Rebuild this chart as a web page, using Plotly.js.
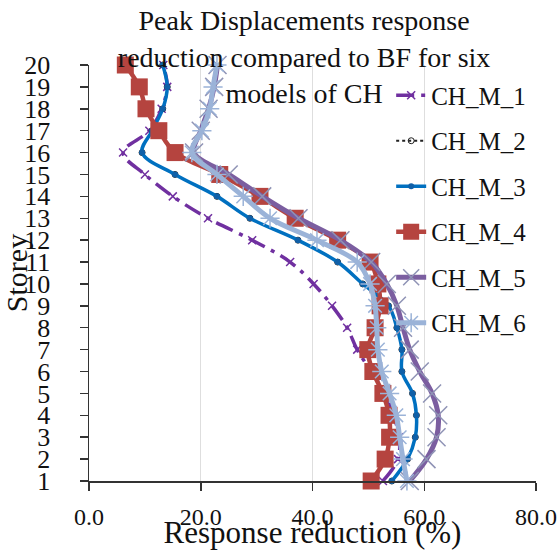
<!DOCTYPE html>
<html>
<head>
<meta charset="utf-8">
<script src="https://cdn.plot.ly/plotly-3.0.1.min.js"></script>
<style>html,body{margin:0;padding:0;background:#fff;}#chart{width:560px;height:550px;}
#fontwarm{position:absolute;left:0;top:560px;font-family:'Liberation Serif';font-size:25px;color:#fff;}</style>
</head>
<body>
<div id="chart"></div>
<span id="fontwarm">Storey CH_M_1 0.0 Response</span>
<script>
// Storey levels (1..20)
const storeys = [1,2,3,4,5,6,7,8,9,10,11,12,13,14,15,16,17,18,19,20];
// Response reduction (%) for each model, storey 1 -> 20
const chM1 = [52.6, 55.3, 55.5, 54.5, 53.0, 50.5, 48.0, 46.2, 43.5, 40.2, 36.0, 29.2, 21.3, 15.0, 10.0, 6.1, 10.8, 13.0, 14.0, 13.3];
const chM2 = [54.2, 57.0, 58.4, 58.6, 57.9, 56.0, 56.0, 55.1, 53.6, 49.0, 44.5, 37.4, 28.8, 22.9, 15.4, 9.5, 11.3, 13.2, 14.0, 13.2];
const chM3 = [54.2, 57.0, 58.4, 58.6, 57.9, 56.0, 56.0, 55.1, 53.6, 49.0, 44.5, 37.4, 28.8, 22.9, 15.4, 9.5, 11.3, 13.2, 14.0, 13.2];
const chM4 = [50.5, 53.0, 53.8, 53.7, 52.6, 50.8, 49.9, 51.2, 52.1, 51.7, 50.3, 44.5, 36.9, 30.6, 23.4, 15.4, 12.5, 10.2, 9.0, 6.5];
const chM5 = [57.4, 60.4, 62.2, 62.5, 61.4, 59.2, 57.4, 56.2, 55.1, 53.3, 50.5, 45.0, 37.5, 31.0, 25.0, 18.8, 20.0, 21.4, 22.4, 23.0];
const chM6 = [56.9, 56.2, 55.6, 55.0, 53.8, 52.4, 51.7, 51.5, 51.2, 50.3, 48.0, 40.8, 32.4, 27.6, 22.9, 18.4, 20.2, 21.6, 22.2, 22.9];
const seriesNames = ["CH_M_1","CH_M_2","CH_M_3","CH_M_4","CH_M_5","CH_M_6"];
const xTickVals = [0, 20, 40, 60, 80];

const serif = "Liberation Serif";
const spline = {shape: "spline", smoothing: 1};

const traces = [
  {x: chM1, y: storeys, name: seriesNames[0], legendgroup: "g1", mode: "lines+markers",
   line: Object.assign({color: "#7030a0", width: 3.5, dash: "18px,7px,4px,7px"}, spline),
   marker: {symbol: "x-thin-open", size: 8, color: "#7030a0", line: {color: "#8a6fc0", width: 1.5}}},
  {x: chM2, y: storeys, name: seriesNames[1], legendgroup: "g2", mode: "lines+markers",
   line: Object.assign({color: "#222222", width: 2, dash: "dot"}, spline),
   marker: {symbol: "circle-open", size: 6, color: "#222222", line: {color: "#222222", width: 1}}},
  {x: chM3, y: storeys, name: seriesNames[2], legendgroup: "g3", mode: "lines+markers",
   line: Object.assign({color: "#0070c0", width: 3.5}, spline),
   marker: {symbol: "circle", size: 6, color: "#1060a8"}},
  {x: chM4, y: storeys, name: seriesNames[3], legendgroup: "g4", mode: "lines+markers",
   line: Object.assign({color: "#b5443f", width: 4.5}, spline),
   marker: {symbol: "square", size: 17, color: "#b5443f"}},
  {x: chM5, y: storeys, name: seriesNames[4], legendgroup: "g5", mode: "lines+markers",
   line: Object.assign({color: "#7b5ea0", width: 5}, spline),
   marker: {symbol: "x-thin-open", size: 18, color: "#8f93b5", line: {color: "#8f93b5", width: 1.5}}},
  {x: chM6, y: storeys, name: seriesNames[5], legendgroup: "g6", mode: "lines+markers",
   line: Object.assign({color: "#9bb3d8", width: 5}, spline),
   marker: {symbol: "asterisk-open", size: 16, color: "#9bb3d8", line: {color: "#9bb3d8", width: 1.5}}}
];
traces.forEach(t => { t.cliponaxis = false; });

const layout = {
  width: 560, height: 550,
  margin: {l: 89, r: 24, t: 65, b: 69, pad: 0},
  paper_bgcolor: "#ffffff", plot_bgcolor: "#ffffff",
  font: {family: serif, color: "#111111", size: 24},
  title: {
    text: "Peak Displacements response<br>reduction compared to BF for six<br>models of CH",
    font: {family: serif, size: 28, color: "#111111"},
    x: 0.543, xanchor: "center", xref: "container",
    y: 0.945, yanchor: "top", yref: "container"
  },
  xaxis: {
    range: [0, 80], tickvals: xTickVals, tickformat: ".1f",
    showgrid: true, gridcolor: "#dedede", gridwidth: 1, zeroline: false,
    showline: true, linecolor: "#333333", linewidth: 1.5,
    ticks: "outside", ticklen: 8, tickcolor: "#333333", tickwidth: 1.5,
    ticklabelstandoff: 6,
    tickfont: {family: serif, size: 24, color: "#111111"},
    title: {text: "Response reduction (%)", font: {family: serif, size: 31, color: "#111111"}, standoff: 0},
    automargin: false
  },
  yaxis: {
    range: [1, 20], tickvals: storeys, ticktext: storeys.map(String),
    showgrid: false, zeroline: false,
    showline: true, linecolor: "#333333", linewidth: 1.5,
    ticks: "outside", ticklen: 8, tickcolor: "#333333", tickwidth: 1.5,
    ticklabelstandoff: 24,
    tickfont: {family: serif, size: 26, color: "#111111"},
    title: {text: "Storey", font: {family: serif, size: 30, color: "#111111"}, standoff: 0},
    automargin: false
  },
  legend: {
    x: 0.676, y: 0.982, xanchor: "left", yanchor: "top",
    bgcolor: "rgba(0,0,0,0)", borderwidth: 0,
    font: {family: serif, size: 25, color: "#111111"},
    tracegroupgap: 10, traceorder: "grouped"
  },
  showlegend: true
};

const config = {displayModeBar: false, staticPlot: true};
const ready = (document.fonts && document.fonts.load)
  ? document.fonts.load("25px 'Liberation Serif'").catch(() => null)
  : Promise.resolve();
ready.then(() => Plotly.newPlot("chart", traces, layout, config)).then(() => {
  const w = document.getElementById("fontwarm");
  if (w) w.textContent = "Liberation Serif ready";
  setTimeout(() => { Plotly.redraw("chart"); }, 60);
});
</script>
</body>
</html>
